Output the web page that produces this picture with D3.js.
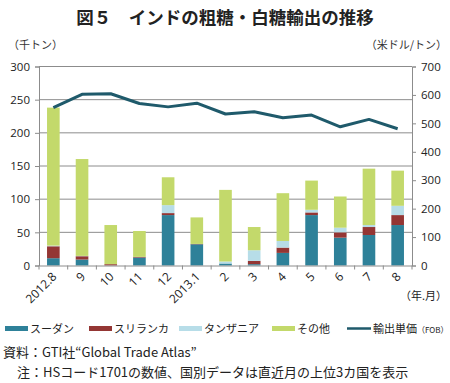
<!DOCTYPE html>
<html><head><meta charset="utf-8">
<script src="https://cdn.jsdelivr.net/npm/d3@7"></script>
<style>body{margin:0;background:#fff;}svg{display:block;font-family:"Noto Sans CJK JP","Noto Sans",sans-serif;}</style>
</head><body><svg id="c" width="450" height="383"></svg>
<script>
const categories = ["2012.8","9","10","11","12","2013.1","2","3","4","5","6","7","8"];
const sudan    = [11, 9, 0, 12, 76, 32, 3, 2, 19, 76, 42, 46, 61];
const srilanka = [18, 5, 2, 1, 3, 0.5, 0, 5, 8, 4, 8, 12, 15];
const tanzania = [1, 0.5, 0, 0, 12, 0, 3, 16, 10, 4, 7, 3, 14];
const others   = [208, 146, 59, 39, 42, 40, 108, 35, 72, 44, 47, 85, 53];
const price    = [555, 602, 604, 570, 558, 571, 533, 541, 520, 529, 488, 514, 481];
const leftTicks = [0, 50, 100, 150, 200, 250, 300];
const rightTicks = [0, 100, 200, 300, 400, 500, 600, 700];
const seriesNames = ["スーダン","スリランカ","タンザニア","その他"];
const colors = ["#2e8199","#943634","#b7dde8","#c3d96b"];
const lineColor = "#1f5a6b";

const svg = d3.select("#c");
const L = 39, R = 412, T = 66.5, B = 265.5;
const x = d3.scaleBand().domain(categories).range([L, R]).paddingInner(0.56).paddingOuter(0.28);
const xb = d3.scaleBand().domain(categories).range([L, R]);
const yL = d3.scaleLinear().domain([0, 300]).range([B, T]);
const yR = d3.scaleLinear().domain([0, 700]).range([B, T]);

// title
svg.append("text").attr("x", 225).attr("y", 24).attr("text-anchor", "middle")
  .attr("font-size", 17.5).attr("font-weight", "bold").attr("fill", "#222")
  .text("図５　インドの粗糖・白糖輸出の推移");
svg.append("text").attr("x", 8).attr("y", 49).attr("font-size", 11).attr("fill", "#333").text("（千トン）");
svg.append("text").attr("x", 447).attr("y", 49).attr("text-anchor", "end").attr("font-size", 11).attr("fill", "#333").text("（米ドル/トン）");

// gridlines
svg.append("g").selectAll("line").data(leftTicks.slice(1)).join("line")
  .attr("x1", L).attr("x2", R).attr("y1", d => yL(d)).attr("y2", d => yL(d))
  .attr("stroke", "#8c8c8c").attr("stroke-width", 1);

// stacked bars
const rows = categories.map((c, i) => ({cat: c, s0: sudan[i], s1: srilanka[i], s2: tanzania[i], s3: others[i]}));
const stack = d3.stack().keys(["s0","s1","s2","s3"])(rows);
svg.append("g").selectAll("g").data(stack).join("g").attr("fill", (d, i) => colors[i])
  .selectAll("rect").data(d => d).join("rect")
  .attr("x", d => x(d.data.cat)).attr("width", x.bandwidth())
  .attr("y", d => yL(d[1])).attr("height", d => Math.max(0, yL(d[0]) - yL(d[1])));

// axes
const axL = svg.append("g").attr("transform", `translate(${L},0)`)
  .call(d3.axisLeft(yL).tickValues(leftTicks).tickSize(4).tickPadding(5));
const axR = svg.append("g").attr("transform", `translate(${R},0)`)
  .call(d3.axisRight(yR).tickValues(rightTicks).tickSize(4).tickPadding(5));
[axL, axR].forEach(a => {
  a.select(".domain").attr("stroke", "#8c8c8c");
  a.selectAll(".tick line").attr("stroke", "#8c8c8c");
  a.selectAll("text").attr("font-size", 11.5).attr("fill", "#222").attr("font-family", "'Open Sans','Noto Sans',sans-serif");
});
const axB = svg.append("g").attr("transform", `translate(0,${B})`)
  .call(d3.axisBottom(xb).tickSize(0).tickFormat(""));
axB.select(".domain").attr("stroke", "#8c8c8c");
svg.append("g").selectAll("line").data(categories.concat(["end"])).join("line")
  .attr("x1", (d, i) => L + i * xb.step()).attr("x2", (d, i) => L + i * xb.step())
  .attr("y1", B).attr("y2", B + 4).attr("stroke", "#8c8c8c");
svg.append("g").selectAll("text").data(categories).join("text")
  .attr("transform", d => `translate(${xb(d) + xb.bandwidth()/2 + 4},${B + 12}) rotate(-45)`)
  .attr("text-anchor", "end").attr("font-size", 12).attr("fill", "#222")
  .attr("font-family", "'Open Sans','Noto Sans',sans-serif")
  .text(d => d);
svg.append("text").attr("x", 447).attr("y", 300).attr("text-anchor", "end").attr("font-size", 11).attr("fill", "#222").text("（年.月）");

// line
const line = d3.line().x((d, i) => xb(categories[i]) + xb.bandwidth()/2).y(d => yR(d));
svg.append("path").datum(price).attr("d", line).attr("fill", "none")
  .attr("stroke", lineColor).attr("stroke-width", 3).attr("stroke-linejoin", "round");

// legend
const lg = svg.append("g").attr("font-size", 11).attr("fill", "#222");
const lx = [5, 89, 179, 272];
seriesNames.forEach((n, i) => {
  lg.append("rect").attr("x", lx[i]).attr("y", 326).attr("width", 23).attr("height", 5).attr("fill", colors[i]);
  lg.append("text").attr("x", lx[i] + 25).attr("y", 333).text(n);
});
lg.append("line").attr("x1", 347).attr("x2", 371).attr("y1", 328.5).attr("y2", 328.5).attr("stroke", lineColor).attr("stroke-width", 2.5);
lg.append("text").attr("x", 373).attr("y", 333).text("輸出単価").append("tspan").attr("font-size", 8).text("（FOB）");

// footnotes
svg.append("text").attr("x", 3).attr("y", 357).attr("font-size", 13).attr("fill", "#222").text("資料：GTI社“Global Trade Atlas”");
svg.append("text").attr("x", 17).attr("y", 377).attr("font-size", 13).attr("fill", "#222").text("注：HSコード1701の数値、国別データは直近月の上位3カ国を表示");
</script></body></html>
